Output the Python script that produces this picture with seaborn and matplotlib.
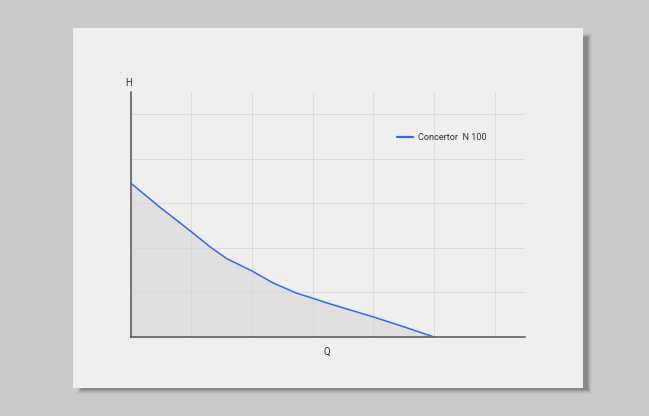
import numpy as np
import pandas as pd
import matplotlib
matplotlib.use("Agg")
import matplotlib.pyplot as plt
from matplotlib.patches import Rectangle
import seaborn as sns

# pump curve
flow = [0, 0.5, 1, 1.3, 1.58, 2, 2.35, 2.74, 3, 3.22, 4, 4.5, 5]
head = [3.45, 2.89, 2.36, 2.03, 1.76, 1.48, 1.21, 0.98, 0.87, 0.77, 0.45, 0.23, 0]
series_name = "Concertor  N 100"
x_ticks = [0, 1, 2, 3, 4, 5, 6]
y_ticks = [0, 1, 2, 3, 4, 5]

W, H = 649, 416

sns.set_theme(style="white")
plt.rcParams["font.family"] = ["Roboto", "DejaVu Sans"]

fig = plt.figure(figsize=(W / 100, H / 100), dpi=100)
fig.patch.set_facecolor("#cbcbcb")


def box(x0, y0, x1, y1):
    # pixel box (top-left origin) -> figure fraction rect
    return (x0 / W, 1 - y1 / H), (x1 - x0) / W, (y1 - y0) / H


# soft shadow behind the paper sheet
for grow, a in [(3, 0.04), (2, 0.06), (1, 0.09), (0, 0.14), (-1, 0.18)]:
    xy, w, h = box(80 - grow, 36 - grow, 589 + grow, 391 + grow)
    fig.add_artist(Rectangle(xy, w, h, transform=fig.transFigure,
                             facecolor="#303030", alpha=a, edgecolor="none", zorder=0))

xy, w, h = box(73, 28, 583, 388)
fig.add_artist(Rectangle(xy, w, h, transform=fig.transFigure,
                         facecolor="#efefef", edgecolor="none", zorder=1))

ax = fig.add_axes([130.7 / W, 1 - 337 / H, (525 - 130.7) / W, (337 - 91.7) / H])
ax.set_zorder(2)
ax.patch.set_alpha(0)

df = pd.DataFrame({"Q": flow, "H": head})
ax.fill_between(df["Q"], df["H"], 0, color="#d6d6d6", alpha=0.6, linewidth=0, zorder=1)
sns.lineplot(data=df, x="Q", y="H", ax=ax, color="#2f6be6", linewidth=1.1,
             label=series_name, zorder=3)

ax.set_xlim(0, 6.5)
ax.set_ylim(0, 5.5)
ax.set_xticks(x_ticks)
ax.set_yticks(y_ticks)
ax.set_xticklabels([])
ax.set_yticklabels([])
ax.grid(True, color="#dadada", linewidth=0.6)
ax.set_axisbelow(True)
ax.tick_params(axis="both", length=2.5, width=0.8, color="#555555", direction="out")

for s in ["top", "right"]:
    ax.spines[s].set_visible(False)
for s in ["left", "bottom"]:
    ax.spines[s].set_color("#555555")
    ax.spines[s].set_linewidth(1.1)

ax.set_xlabel("")
ax.set_ylabel("")
fig.text(128.5 / W, 1 - 83 / H, "H", ha="center", va="center", fontsize=7, color="#333333")
fig.text(327 / W, 1 - 352 / H, "Q", ha="center", va="center", fontsize=7, color="#333333")

leg = ax.legend(loc="upper left", bbox_to_anchor=(0.655, 0.865), frameon=False,
                fontsize=6.6, handlelength=1.7, handletextpad=0.6)
for t in leg.get_texts():
    t.set_color("#333333")
for l in leg.get_lines():
    l.set_linewidth(1.6)

fig.savefig("out.png", dpi=100, facecolor=fig.get_facecolor())
